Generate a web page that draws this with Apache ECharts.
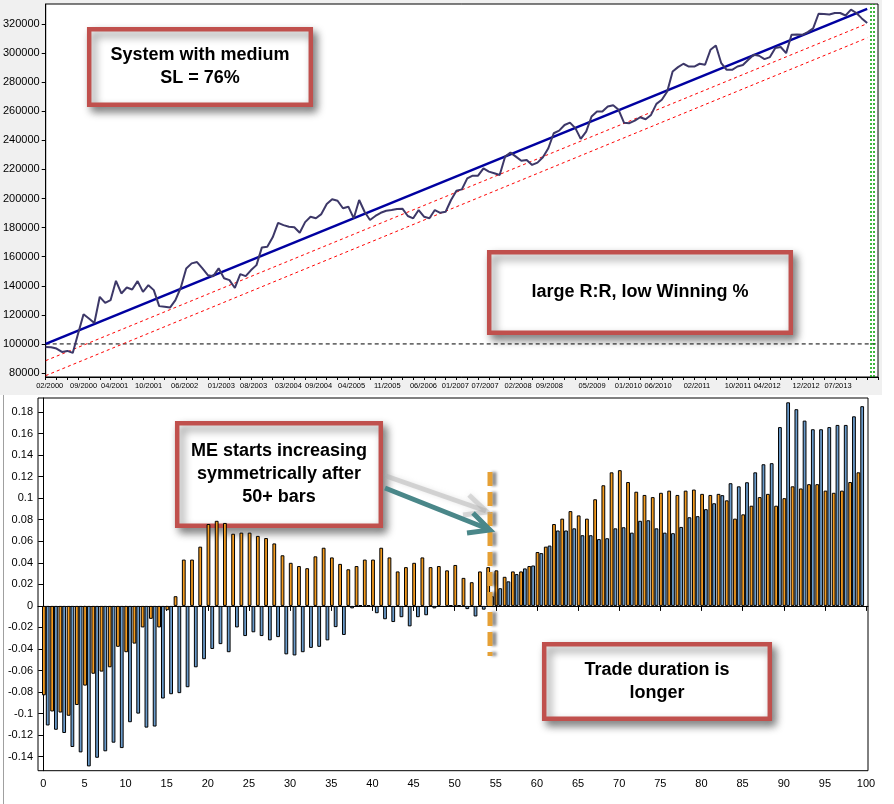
<!DOCTYPE html>
<html><head><meta charset="utf-8">
<script src="https://cdn.jsdelivr.net/npm/echarts@6/dist/echarts.min.js"></script>
<style>html,body{margin:0;padding:0;background:#fff}#c{width:894px;height:804px}</style>
</head><body><div id="c"></div><script>
// ---------- top chart data ----------
const equity = [97900,97700,96800,94500,95200,93800,107100,120400,117500,114400,
132400,128200,130100,143400,134700,138800,137400,143200,135800,140400,
137000,126000,125500,125000,130100,138800,151900,155400,156300,151900,
147300,146600,152000,145200,143900,138500,148000,146600,150800,154200,
166400,166800,173300,183300,181700,180600,180200,176500,183800,187500,
186400,189300,196200,199500,198500,193300,194400,186400,199000,190900,
185200,188000,190200,191600,192100,192800,193000,188000,186400,192100,
187500,186400,192100,190200,190900,199000,205400,206300,213900,215700,
215700,220800,218500,217400,216200,228800,231600,228800,226000,226500,
223100,224700,228400,234600,244900,246700,250600,252200,248400,241000,
246000,256400,259800,259800,263300,264200,261000,252200,251800,253600,
255900,254500,257500,265100,267900,273600,287400,290400,292700,290800,
290800,292700,292000,302300,305300,293100,288500,288500,290800,291800,
295400,298900,298200,295900,297300,303500,304200,300000,312600,312800,
312600,314500,317000,327100,327000,326600,327600,327600,325900,329900,
327600,323900,320700];
const trendLine = [100000, 330500];     // regression start / end
const upperBand = [88500, 320300];      // red dashed
const lowerBand = [78200, 310500];      // red dashed
const baseline = 100000;
const endMarkers = [152.7, 153.3];      // green dotted verticals (trade index)
const topYTicks = [80000,100000,120000,140000,160000,180000,200000,220000,240000,260000,280000,300000,320000];
const dateLabels = ['02/2000','09/2000','04/2001','10/2001','06/2002','01/2003','08/2003','03/2004','09/2004','04/2005','11/2005','06/2006','01/2007','07/2007','02/2008','09/2008','05/2009','01/2010','06/2010','02/2011','10/2011','04/2012','12/2012','07/2013'];
const dateLabelIdx = [0.74,7.0,12.76,19.04,25.7,32.5,38.45,44.9,50.5,56.6,63.2,69.9,75.8,81.3,87.4,93.2,101.1,107.8,113.3,120.5,128.1,133.5,140.7,146.6];

// ---------- bottom chart data ----------
const bins = Array.from({length:100},(_, i)=>String(i));
const orangeME = [-0.083,-0.098,-0.099,-0.102,-0.092,-0.074,-0.063,-0.061,-0.057,-0.038,
-0.043,-0.035,-0.020,-0.012,-0.020,-0.004,0.009,0.043,0.043,0.055,
0.076,0.079,0.077,0.067,0.068,0.068,0.065,0.063,0.058,0.047,
0.040,0.037,0.035,0.046,0.054,0.045,0.039,0.034,0.037,0.043,
0.043,0.054,0.045,0.032,0.036,0.040,0.045,0.036,0.037,0.033,
0.038,0.026,0.022,0.032,0.036,0.033,0.027,0.032,0.032,0.037,
0.050,0.055,0.076,0.081,0.088,0.084,0.081,0.099,0.112,0.124,
0.126,0.115,0.106,0.103,0.101,0.105,0.107,0.103,0.107,0.108,
0.104,0.103,0.104,0.098,0.081,0.085,0.093,0.101,0.104,0.093,
0.100,0.111,0.109,0.113,0.113,0.107,0.105,0.107,0.115,0.124];
const blueME = [-0.111,-0.115,-0.118,-0.131,-0.136,-0.149,-0.141,-0.135,-0.127,-0.132,
-0.108,-0.100,-0.113,-0.112,-0.086,-0.082,-0.081,-0.0755,-0.057,-0.0495,
-0.040,-0.0355,-0.043,-0.020,-0.028,-0.0245,-0.028,-0.032,-0.029,-0.045,
-0.046,-0.043,-0.039,-0.038,-0.032,-0.0197,-0.027,-0.0023,0.0006,0.0006,
-0.0068,-0.0124,-0.015,-0.0105,-0.019,-0.0105,-0.0087,-0.0023,-0.001,0.0006,
0.0006,-0.003,-0.0098,-0.0035,0.009,0.0164,0.0228,0.0295,0.0348,0.0375,
0.049,0.056,0.070,0.070,0.072,0.0656,0.0656,0.062,0.0628,0.072,
0.073,0.068,0.079,0.0795,0.072,0.068,0.0675,0.0733,0.0823,0.0833,
0.0898,0.0953,0.1028,0.1139,0.111,0.1148,0.124,0.1315,0.1325,0.166,
0.189,0.1826,0.172,0.164,0.164,0.166,0.168,0.168,0.176,0.1854];
const barXTicks = [0,5,10,15,20,25,30,35,40,45,50,55,60,65,70,75,80,85,90,95,100];
const barYTicks = [-0.14,-0.12,-0.1,-0.08,-0.06,-0.04,-0.02,0,0.02,0.04,0.06,0.08,0.1,0.12,0.14,0.16,0.18];

// ---------- build ----------
const lastIdx = equity.length - 1;
const topXTicks = [];
for (let i = 0; i <= 154; i += 2) topXTicks.push(i);
const FONT = 'Liberation Sans';
const lbl = (size, extra) => Object.assign({color:'#000', fontSize:size, fontFamily:FONT}, extra||{});

function box(x, y, w, h, text) {
  return {
    type:'group', z:20, children:[
      {type:'rect', shape:{x:x, y:y, width:w, height:h},
       style:{fill:'#fff', stroke:'#C0504D', lineWidth:4.5,
              shadowBlur:8, shadowOffsetX:4, shadowOffsetY:5, shadowColor:'rgba(0,0,0,0.45)'}},
      {type:'text', style:{text:text, x:x + w/2, y:y + h/2, align:'center', verticalAlign:'middle',
              fontSize:18, fontWeight:'bold', fontFamily:FONT, fill:'#000', lineHeight:23}}
    ]
  };
}

const chart = echarts.init(document.getElementById('c'), null, {renderer:'canvas'});
chart.setOption({
  backgroundColor:'#fff',
  animation:false,
  grid:[
    {left:45, right:16, top:4, bottom:427, show:true, backgroundColor:'#fff', borderColor:'#000', borderWidth:1},
    {left:38, right:26, top:398, bottom:33.3, show:true, backgroundColor:'#fff', borderColor:'#000', borderWidth:1},
    {left:41.7, width:822.7, top:398, bottom:33.3, show:false}
  ],
  xAxis:[
    {gridIndex:0, type:'value', min:0, max:154,
     axisLine:{lineStyle:{color:'#000'}},
     axisTick:{show:true, length:3, customValues:topXTicks, lineStyle:{color:'#000'}},
     axisLabel:Object.assign(lbl(7.5,{margin:5}), {customValues:dateLabelIdx,
       formatter:function(v){ let b=0; for(let k=1;k<dateLabelIdx.length;k++){ if(Math.abs(dateLabelIdx[k]-v)<Math.abs(dateLabelIdx[b]-v)) b=k; } return dateLabels[b]; }}),
     splitLine:{show:false}},
    {gridIndex:1, type:'value', min:-0.644, max:100.24,
     axisLine:{lineStyle:{color:'#000'}},
     axisTick:{show:true, length:5, customValues:barXTicks, lineStyle:{color:'#000'}},
     axisLabel:Object.assign(lbl(11,{margin:8}), {customValues:barXTicks, formatter:v=>String(v)}),
     splitLine:{show:false}},
    {gridIndex:2, type:'category', data:bins, show:false, boundaryGap:true}
  ],
  yAxis:[
    {gridIndex:0, type:'value', min:77250, max:333800,
     axisLine:{show:true, lineStyle:{color:'#000'}},
     axisTick:{show:true, length:4, customValues:topYTicks, lineStyle:{color:'#000'}},
     axisLabel:Object.assign(lbl(11,{margin:6}), {customValues:topYTicks, formatter:v=>String(v)}),
     splitLine:{show:false}},
    {gridIndex:1, type:'value', min:-0.153, max:0.193,
     axisLine:{show:true, lineStyle:{color:'#000'}},
     axisTick:{show:true, length:5, customValues:barYTicks, lineStyle:{color:'#000'}},
     axisLabel:Object.assign(lbl(11,{margin:5}), {customValues:barYTicks, formatter:v=>String(+(+v).toFixed(2))}),
     splitLine:{show:false}},
    {gridIndex:2, type:'value', min:-0.153, max:0.193, show:false}
  ],
  series:[
    {type:'line', xAxisIndex:0, yAxisIndex:0, data:[[0,baseline],[154,baseline]], showSymbol:false, silent:true,
     lineStyle:{color:'#000', width:1, type:[4,3]}, z:2,
     markLine:{silent:true, symbol:'none', label:{show:false},
       lineStyle:{color:'#00A000', width:1.5, type:[2,2]},
       data:endMarkers.map(v=>({xAxis:v}))}},
    {type:'line', xAxisIndex:0, yAxisIndex:0, data:[[0,lowerBand[0]],[lastIdx,lowerBand[1]]], showSymbol:false, silent:true,
     lineStyle:{color:'#FF0000', width:1, type:[3,3]}, z:3},
    {type:'line', xAxisIndex:0, yAxisIndex:0, data:[[0,upperBand[0]],[lastIdx,upperBand[1]]], showSymbol:false, silent:true,
     lineStyle:{color:'#FF0000', width:1, type:[3,3]}, z:3},
    {type:'line', xAxisIndex:0, yAxisIndex:0, data:[[0,trendLine[0]],[lastIdx,trendLine[1]]], showSymbol:false, silent:true,
     lineStyle:{color:'#0000A0', width:2.5}, z:4},
    {type:'line', xAxisIndex:0, yAxisIndex:0, data:equity.map((v,i)=>[i,v]), showSymbol:false, silent:true,
     lineStyle:{color:'#3D3868', width:2}, z:5},
    {type:'bar', xAxisIndex:2, yAxisIndex:2, data:orangeME, barGap:'0%', barCategoryGap:'8%',
     itemStyle:{color:'#F39B1F', borderColor:'#000', borderWidth:1}, silent:true},
    {type:'bar', xAxisIndex:2, yAxisIndex:2, data:blueME, barGap:'0%', barCategoryGap:'8%',
     itemStyle:{color:'#6A9BCB', borderColor:'#000', borderWidth:1}, silent:true}
  ],
  graphic:[
    {type:'rect', z:-10, shape:{x:0, y:0, width:882, height:395}, style:{fill:'#F0F0F0'}},
    {type:'line', z:-9, shape:{x1:3.5, y1:395, x2:3.5, y2:804}, style:{stroke:'#A0A0A0', lineWidth:1}},
    box(89.2, 29.2, 221.6, 75.6, 'System with medium\nSL = 76%'),
    box(489.2, 252.2, 301.6, 80.6, 'large R:R, low Winning %'),
    box(177.2, 423.2, 203.6, 102.6, 'ME starts increasing\nsymmetrically after\n50+ bars'),
    box(544.2, 644.2, 225.6, 74.6, 'Trade duration is\nlonger'),
    // orange dashed marker
    {type:'line', z:21, shape:{x1:490, y1:472, x2:490, y2:656},
     style:{stroke:'#E5A035', lineWidth:5, lineDash:[14,6], shadowBlur:3, shadowOffsetX:4, shadowOffsetY:0, shadowColor:'rgba(0,0,0,0.45)'}},
    // arrow shadow
    {type:'polyline', z:21, shape:{points:[[386,476],[486,511]]},
     style:{stroke:'rgba(170,170,170,0.45)', lineWidth:5, shadowBlur:5, shadowColor:'rgba(170,170,170,0.6)'}},
    {type:'polyline', z:21, shape:{points:[[469,495],[487,512],[463,515]]},
     style:{stroke:'rgba(170,170,170,0.4)', lineWidth:5, fill:null, shadowBlur:5, shadowColor:'rgba(170,170,170,0.6)'}},
    // arrow
    {type:'line', z:22, shape:{x1:385, y1:488, x2:488, y2:529}, style:{stroke:'#4A8789', lineWidth:5}},
    {type:'polyline', z:22, shape:{points:[[473,513],[490,530],[467,533]]},
     style:{stroke:'#4A8789', lineWidth:5, fill:null, lineJoin:'miter'}}
  ]
});
</script></body></html>
